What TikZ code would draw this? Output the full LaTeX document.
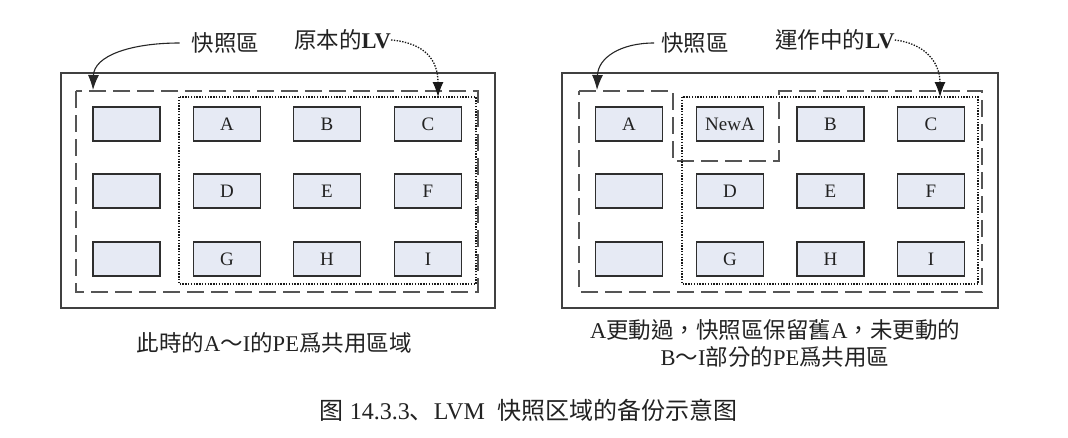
\documentclass[tikz,border=0pt]{standalone}
\usepackage{fontspec}
\setmainfont{Liberation Serif}
\newfontfamily\cjkt{Noto Sans CJK TC}
\newfontfamily\cjks{Noto Sans CJK SC}
\usetikzlibrary{arrows.meta}
\definecolor{pefill}{HTML}{E6EAF4}
\definecolor{pedraw}{HTML}{2E2E2E}
\definecolor{dashgray}{HTML}{555555}
\definecolor{txt}{HTML}{222222}
\begin{document}
\begin{tikzpicture}[x=1pt,y=-1pt,
  pe/.style={draw=pedraw,line width=1.6pt,fill=pefill,minimum width=67pt,minimum height=34pt,inner sep=0pt,font=\fontsize{19}{22}\selectfont,text=txt},
  frame/.style={draw=black!75,line width=1.3pt},
  snapdash/.style={draw=dashgray,line width=2pt,dash pattern=on 17pt off 7pt},
  lvdot/.style={draw=black!90,line width=1.4pt,dash pattern=on 1.4pt off 1.4pt},
  lbl/.style={inner sep=0pt,font=\fontsize{22.5}{26}\selectfont,text=txt},
  arrowsolid/.style={-{Latex[length=15pt,width=11pt]},line width=1.1pt,draw=black!85},
  arrowdot/.style={-{Latex[length=15pt,width=11pt]},line width=1.3pt,draw=black!90,dash pattern=on 1.4pt off 1.4pt},
]
\useasboundingbox[fill=white] (0,0) rectangle (1068,437);

% ---------- left panel ----------
\draw[frame] (61,73) rectangle (495,308);
\draw[snapdash] (76,91) rectangle (478,292);
\draw[lvdot] (179,97) rectangle (476,284);

\node[pe] (L1) at (126.5,124) {};
\node[pe] (L2) at (126.5,191) {};
\node[pe] (L3) at (126.5,259) {};
\node[pe] (LA) at (227,124) {A};
\node[pe] (LB) at (327,124) {B};
\node[pe] (LC) at (428,124) {C};
\node[pe] (LD) at (227,191) {D};
\node[pe] (LE) at (327,191) {E};
\node[pe] (LF) at (428,191) {F};
\node[pe] (LG) at (227,259) {G};
\node[pe] (LH) at (327,259) {H};
\node[pe] (LI) at (428,259) {I};

\node[lbl,inner xsep=12pt] (snapL) at (225.5,43) {\cjkt 快照區};
\node[lbl] (lvL) at (342.5,40) {{\cjkt 原本的}\textbf{LV}};
\coordinate (tipL) at (93,90);
\coordinate (tipLV) at (438,97);
\draw[arrowsolid] (snapL.west) .. controls (130,43) and (94,56) .. (tipL);
\draw[arrowdot] (lvL.east) .. controls (425,43) and (438,60) .. (tipLV);

% ---------- right panel ----------
\draw[frame] (562,73) rectangle (998,308);
\draw[snapdash] (579,91) -- (673,91) -- (673,161) -- (779,161) -- (779,91) -- (982,91) -- (982,292) -- (579,292) -- cycle;
\draw[lvdot] (682,97) rectangle (978,284);

\node[pe] (RA) at (629,124) {A};
\node[pe] (RN) at (730,124) {NewA};
\node[pe] (RB) at (830.5,124) {B};
\node[pe] (RC) at (931,124) {C};
\node[pe] (R2) at (629,191) {};
\node[pe] (RD) at (730,191) {D};
\node[pe] (RE) at (830.5,191) {E};
\node[pe] (RF) at (931,191) {F};
\node[pe] (R3) at (629,259) {};
\node[pe] (RG) at (730,259) {G};
\node[pe] (RH) at (830.5,259) {H};
\node[pe] (RI) at (931,259) {I};

\node[lbl,inner xsep=7pt] (snapR) at (695,43) {\cjkt 快照區};
\node[lbl] (lvR) at (835,40) {{\cjkt 運作中的}\textbf{LV}};
\coordinate (tipR) at (597,90);
\coordinate (tipLVR) at (940,97);
\draw[arrowsolid] (snapR.west) .. controls (620,43) and (598,58) .. (tipR);
\draw[arrowdot] (lvR.east) .. controls (922,43) and (940,60) .. (tipLVR);

% ---------- captions ----------
\node[lbl] (capL) at (274,343) {{\cjkt 此時的}A{\cjkt ～}I{\cjkt 的}PE{\cjkt 爲共用區域}};
\node[lbl,align=center,font=\fontsize{22.5}{27}\selectfont] (capR) at (775,343.5)
  {A{\cjkt 更動過，快照區保留舊}A{\cjkt ，未更動的}\\B{\cjkt ～}I{\cjkt 部分的}PE{\cjkt 爲共用區}};
\node[lbl,font=\fontsize{24}{28}\selectfont] (fig) at (528.5,410)
  {{\cjks 图} 14.3.3{\cjks 、}LVM\ \ {\cjks 快照区域的备份示意图}};
\end{tikzpicture}
\end{document}
